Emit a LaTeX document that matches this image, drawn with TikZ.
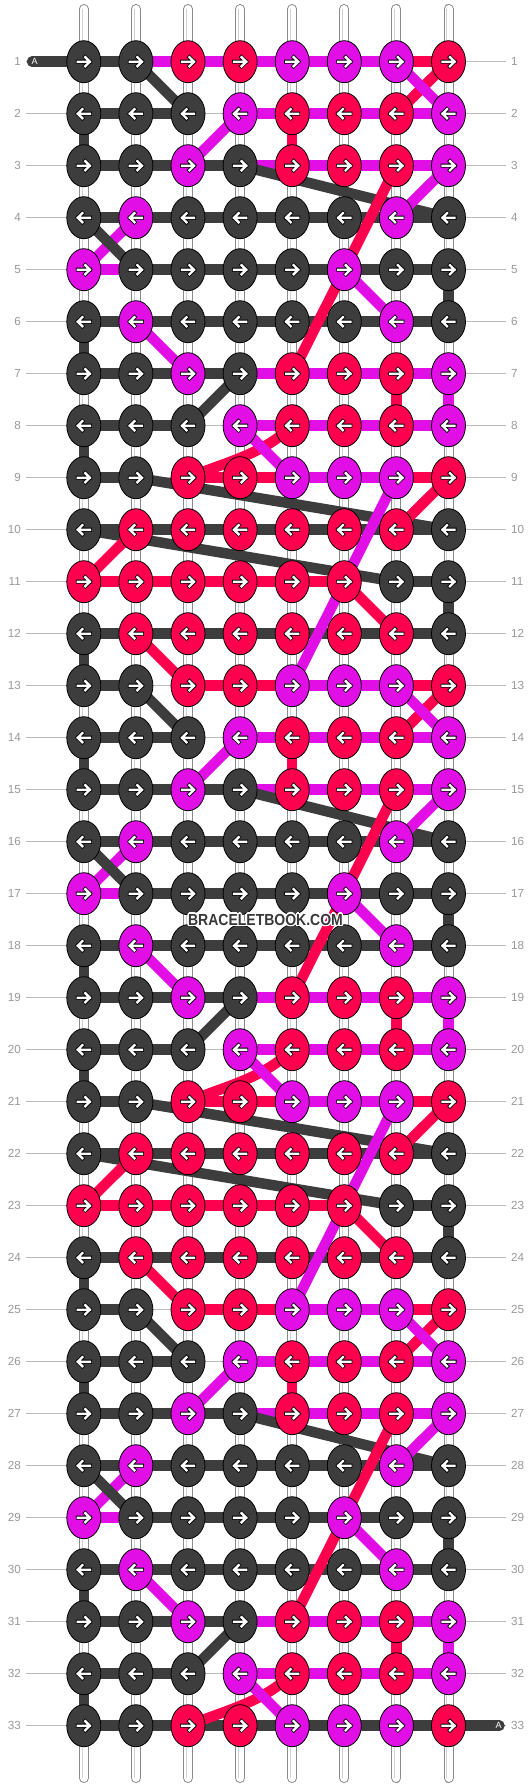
\documentclass[tikz,border=0pt]{standalone}
\usepackage{fontspec}
\setmainfont{Liberation Sans}
\usetikzlibrary{shapes.geometric}
\definecolor{cD}{HTML}{3D3D3D}
\definecolor{cM}{HTML}{E10FE6}
\definecolor{cR}{HTML}{FF004F}
\definecolor{labc}{HTML}{999999}
\definecolor{guidec}{HTML}{BBBBBB}
\definecolor{strc}{HTML}{8A8A8A}
\definecolor{wmc}{HTML}{383838}
% horizontal segment in row #1 from column #2 to #2+1, colour #3
\newcommand\hseg[3]{\pgfmathtruncatemacro\hsegn{#2+1}\draw[thread,#3] (p-#1-#2) -- (p-#1-\hsegn);}
\newcommand\lnk[5]{\draw[thread,#1] (p-#2-#3) -- (p-#4-#5);}
\newcommand\hsAll[1]{\foreach \cc in {1,...,7}{\hseg{#1}{\cc}{cD}}}
\newcommand\hsA[1]{\hseg{#1}{1}{cD}\hseg{#1}{3}{cR}\hseg{#1}{4}{cR}\hseg{#1}{5}{cM}\hseg{#1}{6}{cM}\hseg{#1}{7}{cR}}
\newcommand\hsB[1]{\hseg{#1}{1}{cD}\hseg{#1}{2}{cD}\hseg{#1}{4}{cM}\hseg{#1}{5}{cM}\hseg{#1}{6}{cM}\hseg{#1}{7}{cM}}
\newcommand\hsC[1]{\hseg{#1}{1}{cD}\hseg{#1}{2}{cD}\hseg{#1}{3}{cD}\hseg{#1}{4}{cM}\hseg{#1}{5}{cM}\hseg{#1}{6}{cM}\hseg{#1}{7}{cM}}
\newcommand\hsE[1]{\hseg{#1}{1}{cM}\hseg{#1}{2}{cD}\hseg{#1}{3}{cD}\hseg{#1}{4}{cD}\hseg{#1}{5}{cD}\hseg{#1}{6}{cD}\hseg{#1}{7}{cD}}
\newcommand\hsK[1]{\hseg{#1}{1}{cR}\hseg{#1}{2}{cR}\hseg{#1}{3}{cR}\hseg{#1}{4}{cR}\hseg{#1}{5}{cR}\hseg{#1}{7}{cD}}
% links between row #1 and the next one
\newcommand\lkA[1]{\pgfmathtruncatemacro\rnx{#1+1}\lnk{cD}{#1}{2}{\rnx}{3}\lnk{cR}{#1}{8}{\rnx}{7}\lnk{cM}{#1}{7}{\rnx}{8}}
\newcommand\lkB[1]{\pgfmathtruncatemacro\rnx{#1+1}\lnk{cD}{#1}{1}{\rnx}{1}\lnk{cM}{#1}{4}{\rnx}{3}\lnk{cR}{#1}{5}{\rnx}{5}}
\newcommand\lkC[1]{\pgfmathtruncatemacro\rnx{#1+1}\lnk{cM}{#1}{8}{\rnx}{7}}
\newcommand\lkD[1]{\pgfmathtruncatemacro\rnx{#1+1}\lnk{cM}{#1}{2}{\rnx}{1}\lnk{cD}{#1}{1}{\rnx}{2}}
\newcommand\lkE[1]{\pgfmathtruncatemacro\rnx{#1+1}\lnk{cM}{#1}{6}{\rnx}{7}\lnk{cD}{#1}{8}{\rnx}{8}}
\newcommand\lkF[1]{\pgfmathtruncatemacro\rnx{#1+1}\lnk{cD}{#1}{1}{\rnx}{1}\lnk{cM}{#1}{2}{\rnx}{3}}
\newcommand\lkG[1]{\pgfmathtruncatemacro\rnx{#1+1}\lnk{cD}{#1}{4}{\rnx}{3}\lnk{cR}{#1}{7}{\rnx}{7}\lnk{cM}{#1}{8}{\rnx}{8}}
\newcommand\lkH[1]{\pgfmathtruncatemacro\rnx{#1+1}\lnk{cD}{#1}{1}{\rnx}{1}\draw[thread,cR] (p-#1-5) .. controls +(-30,29.3) and +(37.3,-15.7) .. (p-\rnx-3);\lnk{cM}{#1}{4}{\rnx}{5}}
\newcommand\lkI[1]{\pgfmathtruncatemacro\rnx{#1+1}\lnk{cR}{#1}{8}{\rnx}{7}}
\newcommand\lkJ[1]{\pgfmathtruncatemacro\rnx{#1+1}\lnk{cR}{#1}{2}{\rnx}{1}}
\newcommand\lkK[1]{\pgfmathtruncatemacro\rnx{#1+1}\lnk{cR}{#1}{6}{\rnx}{7}\lnk{cD}{#1}{8}{\rnx}{8}}
\newcommand\lkL[1]{\pgfmathtruncatemacro\rnx{#1+1}\lnk{cD}{#1}{1}{\rnx}{1}\lnk{cR}{#1}{2}{\rnx}{3}}
\newcommand\krow[2]{\foreach \kk [count=\kc] in {#2}{\node[knot,fill=\kk] (k-#1-\kc) at (p-#1-\kc) {};}}
\newcommand\wmtext{\scalebox{0.875}[1]{\fontsize{16}{16}\selectfont\bfseries BRACELETBOOK.COM}}

\begin{document}
\begin{tikzpicture}[x=1pt,y=-1pt,
  knot/.style={ellipse,draw=black,line width=0.8pt,minimum width=34pt,minimum height=42pt,inner sep=0pt},
  thread/.style={line width=10.5pt},
  guide/.style={draw=guidec,line width=1pt},
  lab/.style={text=labc,font=\fontsize{11.7}{13}\selectfont,inner sep=0pt},
  arrout/.style={draw=black,line width=4pt,line cap=rect,line join=miter},
  arrin/.style={draw=white,line width=2.4pt,line cap=rect,line join=miter}]
\useasboundingbox (0,0) rectangle (532,1788);
\fill[white] (0,0) rectangle (532,1788);
% grid coordinates
\foreach \r in {1,...,33}{\foreach \c in {1,...,8}{
  \coordinate (p-\r-\c) at ({83.8+52.1*(\c-1)},{61.7+52*(\r-1)});}}
% row guide lines and labels
\foreach \r in {1,...,33}{
  \pgfmathsetmacro\yy{61.7+52*(\r-1)}
  \draw[guide] (26,\yy) -- (506,\yy);
  \node[lab,anchor=east] (ll-\r) at (21,\yy) {\r};
  \node[lab,anchor=west] (rl-\r) at (511,\yy) {\r};}
% vertical strings
\foreach \c in {1,...,8}{
  \pgfmathsetmacro\xx{83.8+52.1*(\c-1)}
  \coordinate (st-\c) at (\xx,9);
  \coordinate (sb-\c) at (\xx,1778);
  \draw[line width=10pt,color=strc,line cap=round] (st-\c) -- (sb-\c);
  \draw[line width=8pt,white,line cap=round] (st-\c) -- (sb-\c);
  \draw[line width=0.7pt,color=gray!35] ([xshift=-1.8pt]st-\c) -- ([xshift=-1.8pt]sb-\c);}
% start and end threads
\coordinate (aS) at (32,61.7);
\coordinate (aE) at (499.5,1725.7);
\draw[thread,cD,line cap=round] (aS) -- (p-1-1);
\draw[thread,cD,line cap=round] (p-33-8) -- (aE);
\node[text=white,font=\fontsize{9}{10}\selectfont,inner sep=0pt] (aSl) at (34.7,61.7) {A};
\node[text=white,font=\fontsize{9}{10}\selectfont,inner sep=0pt] (aEl) at (498.5,1725.7) {A};
% horizontal segments
\hseg{1}{1}{cD}\hseg{1}{2}{cM}\hseg{1}{3}{cM}\hseg{1}{4}{cM}\hseg{1}{5}{cM}\hseg{1}{6}{cM}\hseg{1}{7}{cR}
\hsB{2}\hsC{3}\hsAll{4}\hsE{5}\hsAll{6}\hsC{7}\hsB{8}\hsA{9}\hsAll{10}\hsK{11}\hsAll{12}
\hsA{13}\hsB{14}\hsC{15}\hsAll{16}\hsE{17}\hsAll{18}\hsC{19}\hsB{20}\hsA{21}\hsAll{22}\hsK{23}\hsAll{24}
\hsA{25}\hsB{26}\hsC{27}\hsAll{28}\hsE{29}\hsAll{30}\hsC{31}\hsB{32}\hsAll{33}
% long dark threads
\lnk{cD}{3}{4}{4}{8}\lnk{cD}{15}{4}{16}{8}\lnk{cD}{27}{4}{28}{8}
\lnk{cD}{9}{2}{10}{8}\lnk{cD}{21}{2}{22}{8}
\lnk{cD}{10}{1}{11}{7}\lnk{cD}{22}{1}{23}{7}
% short links between rows
\lkA{1}\lkB{2}\lkC{3}\lkD{4}\lkE{5}\lkF{6}\lkG{7}\lkH{8}\lkI{9}\lkJ{10}\lkK{11}\lkL{12}
\lkA{13}\lkB{14}\lkC{15}\lkD{16}\lkE{17}\lkF{18}\lkG{19}\lkH{20}\lkI{21}\lkJ{22}\lkK{23}\lkL{24}
\lkA{25}\lkB{26}\lkC{27}\lkD{28}\lkE{29}\lkF{30}\lkG{31}\lkH{32}
% long coloured threads
\lnk{cR}{3}{7}{7}{5}\lnk{cR}{15}{7}{19}{5}\lnk{cR}{27}{7}{31}{5}
\lnk{cM}{9}{7}{13}{5}\lnk{cM}{21}{7}{25}{5}
% knots
\krow{1}{cD,cD,cR,cR,cM,cM,cM,cR}
\krow{2}{cD,cD,cD,cM,cR,cR,cR,cM}
\krow{3}{cD,cD,cM,cD,cR,cR,cR,cM}
\krow{4}{cD,cM,cD,cD,cD,cD,cM,cD}
\krow{5}{cM,cD,cD,cD,cD,cM,cD,cD}
\krow{6}{cD,cM,cD,cD,cD,cD,cM,cD}
\krow{7}{cD,cD,cM,cD,cR,cR,cR,cM}
\krow{8}{cD,cD,cD,cM,cR,cR,cR,cM}
\krow{9}{cD,cD,cR,cR,cM,cM,cM,cR}
\krow{10}{cD,cR,cR,cR,cR,cR,cR,cD}
\krow{11}{cR,cR,cR,cR,cR,cR,cD,cD}
\krow{12}{cD,cR,cR,cR,cR,cR,cR,cD}
\krow{13}{cD,cD,cR,cR,cM,cM,cM,cR}
\krow{14}{cD,cD,cD,cM,cR,cR,cR,cM}
\krow{15}{cD,cD,cM,cD,cR,cR,cR,cM}
\krow{16}{cD,cM,cD,cD,cD,cD,cM,cD}
\krow{17}{cM,cD,cD,cD,cD,cM,cD,cD}
\krow{18}{cD,cM,cD,cD,cD,cD,cM,cD}
\krow{19}{cD,cD,cM,cD,cR,cR,cR,cM}
\krow{20}{cD,cD,cD,cM,cR,cR,cR,cM}
\krow{21}{cD,cD,cR,cR,cM,cM,cM,cR}
\krow{22}{cD,cR,cR,cR,cR,cR,cR,cD}
\krow{23}{cR,cR,cR,cR,cR,cR,cD,cD}
\krow{24}{cD,cR,cR,cR,cR,cR,cR,cD}
\krow{25}{cD,cD,cR,cR,cM,cM,cM,cR}
\krow{26}{cD,cD,cD,cM,cR,cR,cR,cM}
\krow{27}{cD,cD,cM,cD,cR,cR,cR,cM}
\krow{28}{cD,cM,cD,cD,cD,cD,cM,cD}
\krow{29}{cM,cD,cD,cD,cD,cM,cD,cD}
\krow{30}{cD,cM,cD,cD,cD,cD,cM,cD}
\krow{31}{cD,cD,cM,cD,cR,cR,cR,cM}
\krow{32}{cD,cD,cD,cM,cR,cR,cR,cM}
\krow{33}{cD,cD,cR,cR,cM,cM,cM,cR}
% arrows
\foreach \r in {1,...,33}{
  \pgfmathtruncatemacro\sgn{ifthenelse(mod(\r,2)==1,1,-1)}
  \foreach \c in {1,...,8}{
    \draw[arrout] (k-\r-\c.center) ++({-6*\sgn},0) -- ++({12*\sgn},0) ++({-4.5*\sgn},-4.5) -- ++({4.5*\sgn},4.5) -- ++({-4.5*\sgn},4.5);
    \draw[arrin] (k-\r-\c.center) ++({-6*\sgn},0) -- ++({12*\sgn},0) ++({-4.5*\sgn},-4.5) -- ++({4.5*\sgn},4.5) -- ++({-4.5*\sgn},4.5);}}
% watermark
\foreach \dx/\dy [count=\i] in {1.4/0,-1.4/0,0/1.4,0/-1.4,1/1,1/-1,-1/1,-1/-1}{
  \node[text=white,inner sep=0pt] (wmh-\i) at (265.5+\dx,919.5+\dy) {\wmtext};}
\node[text=wmc,inner sep=0pt] (wm) at (265.5,919.5) {\wmtext};
\end{tikzpicture}
\end{document}
